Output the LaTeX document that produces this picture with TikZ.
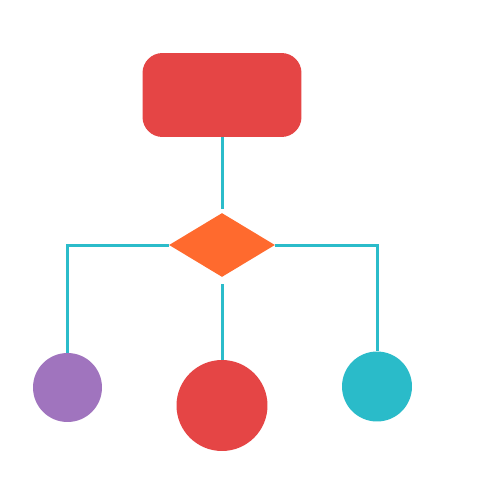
\documentclass[tikz,border=0pt]{standalone}
\usepackage{tikz}
\usetikzlibrary{shapes.geometric}
\definecolor{boxred}{HTML}{E54545}
\definecolor{decorange}{HTML}{FF6A2E}
\definecolor{leafpurple}{HTML}{A074BE}
\definecolor{leafteal}{HTML}{2ABBC9}
\definecolor{wire}{HTML}{2BBCCA}
\tikzset{link/.style = {draw=wire, line width=0.06cm}}
\tikzset{leaf/.style = {circle, inner sep=0pt, draw=none}}

\begin{document}
\begin{tikzpicture}[x=0.02cm, y=-0.02cm]
		% Frame
		\useasboundingbox[fill=white] (0,0) rectangle (500,500);
		
		% Top box
		\node[fill=boxred, rounded corners=0.4cm, minimum width=3.18cm, minimum height=1.68cm, inner sep=0pt] (top) at (222,95) {};
		
		% Decision
		\node[diamond, fill=decorange, minimum width=2.12cm, minimum height=1.28cm, inner sep=0pt] (dec) at (222,245) {};
		
		% Leaves
		\node[leaf, fill=leafpurple, minimum size=1.38cm] (left) at (67.5,387.5) {};
		\node[leaf, fill=boxred, minimum size=1.82cm] (mid) at (222,405.5) {};
		\node[leaf, fill=leafteal, minimum size=1.4cm] (right) at (377,386.5) {};
		
		% Wires
		\draw[link, shorten >=0.08cm] (top.south) -- (dec.north);
		\draw[link] (dec.west) -| (left.north);
		\draw[link] (dec.east) -| (right.north);
		\draw[link, shorten <=0.14cm] (dec.south) -- (mid.north);
	\end{tikzpicture}
\end{document}
